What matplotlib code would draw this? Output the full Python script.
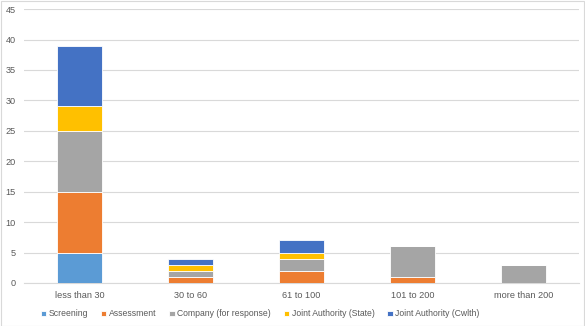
import matplotlib
matplotlib.use("Agg")
import matplotlib.pyplot as plt
import numpy as np

categories = ["less than 30", "30 to 60", "61 to 100", "101 to 200", "more than 200"]
screening = [5, 0, 0, 0, 0]
assessment = [10, 1, 2, 1, 0]
company = [10, 1, 2, 5, 3]
joint_state = [4, 1, 1, 0, 0]
joint_cwlth = [10, 1, 2, 0, 0]

series = [
    ("Screening", screening, "#5B9BD5"),
    ("Assessment", assessment, "#ED7D31"),
    ("Company (for response)", company, "#A5A5A5"),
    ("Joint Authority (State)", joint_state, "#FFC000"),
    ("Joint Authority (Cwlth)", joint_cwlth, "#4472C4"),
]

plt.rcParams['font.family'] = ['Liberation Sans', 'DejaVu Sans']
fig = plt.figure(figsize=(5.85, 3.26), dpi=100)
ax = fig.add_axes([0.041, 0.132, 0.949, 0.840])

x = np.arange(len(categories))
bottom = np.zeros(len(categories))
for name, vals, col in series:
    v = np.array(vals, dtype=float)
    ax.bar(x, v, width=0.41, bottom=bottom, color=col, label=name,
           edgecolor="white", linewidth=0.6, zorder=3)
    bottom += v

ax.set_xlim(-0.5, len(categories) - 0.5)
ax.set_ylim(0, 45)
ax.set_yticks(range(0, 46, 5))
ax.set_xticks(x)
ax.set_xticklabels(categories)
ax.yaxis.grid(True, color="#D9D9D9", linewidth=0.8, zorder=0)
for s in ax.spines.values():
    s.set_visible(False)
ax.spines['bottom'].set_visible(True)
ax.spines['bottom'].set_color("#D9D9D9")
ax.tick_params(axis='both', length=0, labelsize=6.6, colors="#595959", pad=6)
ax.tick_params(axis='y', pad=6)

leg = fig.legend(loc="center", bbox_to_anchor=(0.445, 0.037), ncol=5, frameon=False,
                 fontsize=6.2, handlelength=0.6, handleheight=0.6, handletextpad=0.3,
                 columnspacing=1.5)
for t in leg.get_texts():
    t.set_color("#595959")

fig.patches.append(matplotlib.patches.Rectangle((0.001, 0.001), 0.997, 0.997,
                   transform=fig.transFigure, fill=False, edgecolor="#D9D9D9", linewidth=0.8))
fig.savefig("out.png", dpi=100, facecolor="white")
